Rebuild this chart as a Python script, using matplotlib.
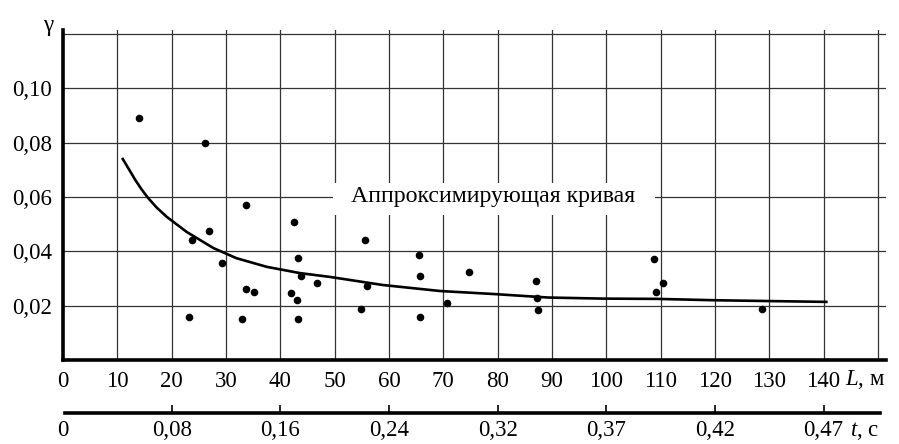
import matplotlib
matplotlib.use("Agg")
import matplotlib.pyplot as plt
from matplotlib.patches import Rectangle

# measured points: path length L (m) and gamma
L_pts = [14.0, 26.1, 33.7, 42.6, 26.9, 23.8, 29.3, 43.3, 33.6, 35.1, 41.9, 43.1,
         23.2, 32.9, 43.2, 43.8, 46.7, 55.6, 56.0, 54.8, 65.5, 65.7, 65.7, 70.6,
         74.7, 87.1, 87.2, 87.4, 108.8, 110.4, 109.1, 128.7]
g_pts = [0.0891, 0.0799, 0.0571, 0.0508, 0.0475, 0.0442, 0.0357, 0.0376, 0.0261,
         0.0250, 0.0247, 0.0221, 0.0158, 0.0151, 0.0151, 0.0309, 0.0283, 0.0442,
         0.0273, 0.0188, 0.0387, 0.0309, 0.0158, 0.0210, 0.0324, 0.0291, 0.0228,
         0.0184, 0.0372, 0.0283, 0.0250, 0.0188]

# approximating curve
L_fit = [11.0, 12.2, 13.3, 14.4, 15.6, 17.2, 19.1, 22.8, 27.7, 31.9, 37.5, 43.6,
         49.1, 58.9, 69.4, 79.2, 89.3, 99.4, 109.3, 120.0, 130.0, 140.5]
g_fit = [0.0740, 0.0700, 0.0663, 0.0630, 0.0598, 0.0562, 0.0527, 0.0471, 0.0412,
         0.0375, 0.0343, 0.0320, 0.0306, 0.0276, 0.0254, 0.0243, 0.0230, 0.0226,
         0.0225, 0.0220, 0.0217, 0.0214]

L_ticks = list(range(0, 160, 10))
L_labels = [str(v) for v in range(0, 150, 10)] + [""]
g_ticks = [0.02, 0.04, 0.06, 0.08, 0.10, 0.12]
g_labels = ["0,02", "0,04", "0,06", "0,08", "0,10", ""]
t_pos = [0, 20, 40, 60, 80, 100, 120, 140]
t_labels = ["0", "0,08", "0,16", "0,24", "0,32", "0,37", "0,42", "0,47"]

plt.rcParams["font.family"] = ["Liberation Serif", "DejaVu Serif"]
plt.rcParams["font.size"] = 16.5
plt.rcParams["mathtext.fontset"] = "custom"
plt.rcParams["mathtext.rm"] = "Liberation Serif"
plt.rcParams["mathtext.it"] = "Liberation Serif:italic"

fig = plt.figure(figsize=(8.99, 4.44), dpi=100)
ax = fig.add_axes([0.0701, 0.1892, 0.9155, 0.7432])

ax.plot(L_fit, g_fit, color="black", lw=1.9, zorder=3)
ax.scatter(L_pts, g_pts, s=20, color="black", zorder=4)

ax.set_xlim(0, 151.5)
ax.set_ylim(0, 0.1215)
ax.set_xticks(L_ticks)
ax.set_xticklabels(L_labels)
ax.set_yticks(g_ticks)
ax.set_yticklabels(g_labels)
ax.tick_params(axis="both", length=0)
ax.tick_params(axis="x", pad=8)
ax.tick_params(axis="y", pad=8)
ax.grid(True, color="#333333", lw=0.9)
ax.set_axisbelow(True)

for s in ("top", "right"):
    ax.spines[s].set_visible(False)
ax.spines["left"].set_linewidth(2.6)
ax.spines["bottom"].set_linewidth(2.6)

# white patch behind the curve caption
ax.add_patch(Rectangle((49.7, 0.0534), 59.3, 0.0118, facecolor="white",
                       edgecolor="none", zorder=2))
ax.text(79.1, 0.0601, "Аппроксимирующая кривая", ha="center", va="center",
        fontsize=17.2, zorder=5)

ax.text(-0.018, 1.015, "γ", transform=ax.transAxes, ha="center", va="center")
ax.text(147.6, -0.06, "$\\mathit{L}$, м", transform=ax.get_xaxis_transform(),
        ha="center", va="center")

# time axis below
sec = ax.secondary_xaxis(-0.1606)
sec.set_xticks(t_pos)
sec.set_xticklabels(t_labels)
sec.tick_params(axis="x", direction="in", length=6, width=1.2, pad=5)
sec.xaxis.get_major_ticks()[0].tick1line.set_visible(False)
sec.spines["bottom"].set_linewidth(2.6)
sec.spines["bottom"].set_bounds(0.4, 150.4)
ax.text(147.6, -0.215, "$\\mathit{t}$, с", transform=ax.get_xaxis_transform(),
        ha="center", va="center")

fig.savefig("out.png", dpi=100)
